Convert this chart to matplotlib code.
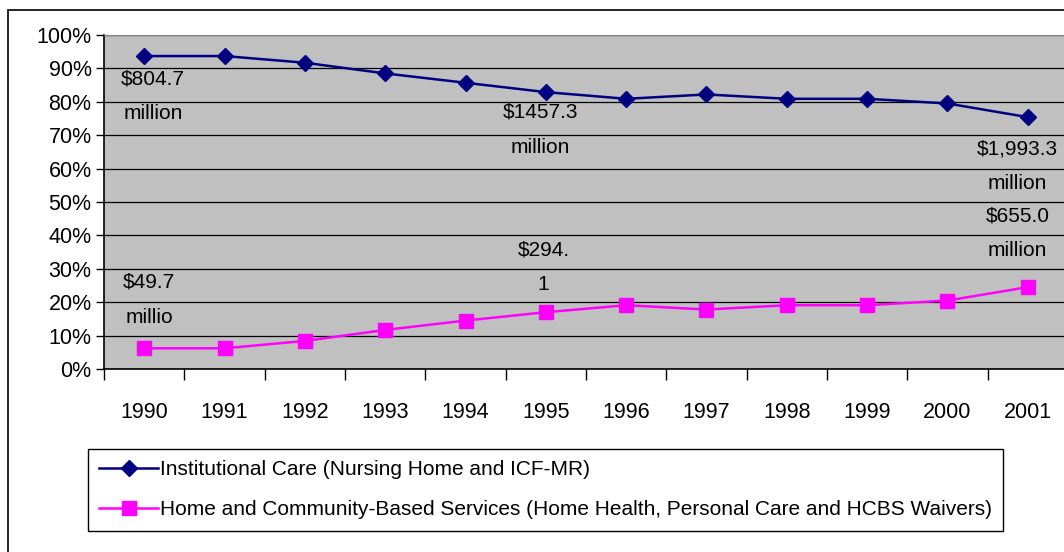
import matplotlib.pyplot as plt
from matplotlib.patches import Rectangle

plt.rcParams['font.family'] = 'Liberation Sans'

years = ['1990', '1991', '1992', '1993', '1994', '1995', '1996', '1997', '1998', '1999', '2000', '2001']
institutional = [93.7, 93.7, 91.7, 88.5, 85.7, 82.9, 80.9, 82.2, 80.9, 80.9, 79.5, 75.4]
hcbs = [6.2, 6.2, 8.4, 11.7, 14.5, 17.0, 19.1, 17.8, 19.1, 19.1, 20.5, 24.5]

label_inst = "Institutional Care (Nursing Home and ICF-MR)"
label_hcbs = "Home and Community-Based Services (Home Health, Personal Care and HCBS Waivers)"

# spending notes: (text, x category position, y %)
notes = [
    ("$804.7\nmillion", 0.11, 81.6),
    ("$1457.3\nmillion", 4.93, 71.6),
    ("$1,993.3\nmillion", 10.87, 60.6),
    ("$655.0\nmillion", 10.87, 40.6),
    ("$294.\n1", 4.97, 30.5),
    ("$49.7\nmillio", 0.06, 20.7),
]

fig = plt.figure(figsize=(10.64, 5.52), dpi=100)
fig.patches.append(Rectangle((8 / 1064, -0.05), 1.1, 1 - 10 / 552 + 0.05, transform=fig.transFigure,
                             fill=False, edgecolor='black', linewidth=1.2))

ax = fig.add_axes([104 / 1064, 1 - 369 / 552, 964 / 1064, 334 / 552])
ax.set_facecolor('#C0C0C0')

x = list(range(len(years)))
ax.plot(x, institutional, color='#000080', marker='D', markersize=8, linewidth=1.8, label=label_inst)
ax.plot(x, hcbs, color='#FF00FF', marker='s', markersize=10, linewidth=1.8, label=label_hcbs)

for txt, tx, ty in notes:
    ax.text(tx, ty, txt, ha='center', va='center', fontsize=15, linespacing=2.05, color='black')

ax.set_xlim(-0.5, len(years) - 0.5)
ax.set_ylim(0, 100)

ax.set_yticks(range(0, 101, 10))
ax.set_yticklabels([f"{v}%" for v in range(0, 101, 10)], fontsize=15.5)
ax.tick_params(axis='y', length=6, width=1, pad=3)
ax.yaxis.grid(True, color='black', linewidth=0.9)
ax.set_axisbelow(True)

ax.set_xticks([i - 0.5 for i in range(len(years) + 1)])
ax.set_xticklabels([])
ax.set_xticks(x, minor=True)
ax.set_xticklabels(years, minor=True, fontsize=15.5)
ax.tick_params(axis='x', which='major', length=8, width=1, direction='out')
ax.tick_params(axis='x', which='minor', length=0, pad=24)

ax.spines['top'].set_color('#808080')
ax.spines['right'].set_visible(False)
ax.spines['left'].set_linewidth(1.2)
ax.spines['bottom'].set_linewidth(1.2)

leg = fig.legend(loc='upper left', bbox_to_anchor=(88 / 1064, 1 - 449 / 552), fontsize=15,
                 frameon=True, fancybox=False, edgecolor='black', framealpha=1,
                 handlelength=2.8, handletextpad=0.1, labelspacing=1.0, borderpad=0.55,
                 borderaxespad=0)
leg.get_frame().set_linewidth(1)

fig.savefig('out.png', dpi=100)
